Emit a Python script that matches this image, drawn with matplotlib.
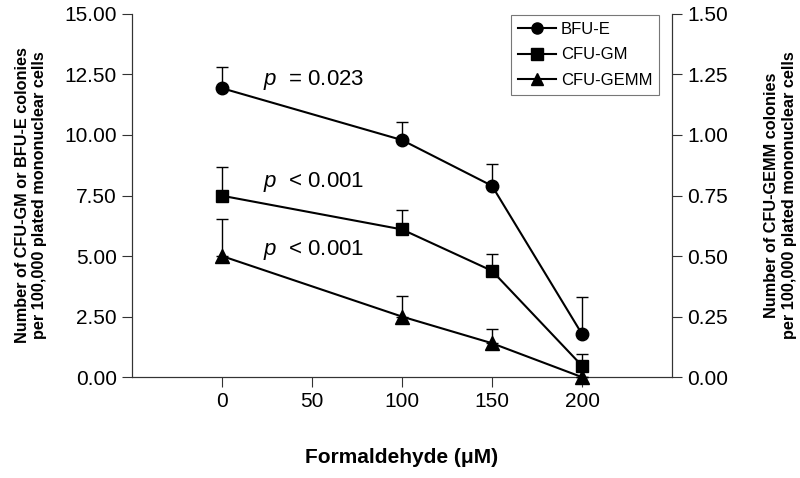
import matplotlib.pyplot as plt
import numpy as np
from matplotlib.lines import Line2D

plt.rcParams['font.family'] = ['Liberation Sans', 'DejaVu Sans']
plt.rcParams['mathtext.fontset'] = 'custom'
plt.rcParams['mathtext.it'] = 'Liberation Sans:italic'
plt.rcParams['mathtext.rm'] = 'Liberation Sans'

# formaldehyde dose (uM)
dose = [0, 100, 150, 200]

# colonies per 100,000 cells, left axis
bfu_e = [11.93, 9.79, 7.90, 1.78]
bfu_e_top = [12.82, 10.55, 8.80, 3.29]
cfu_gm = [7.49, 6.10, 4.39, 0.47]
cfu_gm_top = [8.67, 6.90, 5.08, 0.95]

# CFU-GEMM, right axis
cfu_gemm = [0.50, 0.25, 0.14, 0.0]
cfu_gemm_top = [0.655, 0.335, 0.197, 0.0]

p_labels = ["$p$  = 0.023", "$p$  < 0.001", "$p$  < 0.001"]
p_y = [12.27, 8.06, 5.25]

fig = plt.figure(figsize=(8, 4.78), dpi=100)
ax = fig.add_axes([0.165, 0.211, 0.675, 0.76])
ax2 = ax.twinx()

handles = []
def draw(a, y, top, marker, ms, label):
    y = np.array(y)
    err = np.array(top) - y
    a.errorbar(dose, y, yerr=[np.zeros_like(err), err], color='black', lw=1.5,
               marker=marker, ms=ms, capsize=4.5, elinewidth=1.0, capthick=1.0,
               clip_on=False, zorder=3)
    handles.append(Line2D([], [], color='black', lw=1.5, marker=marker, ms=ms - 1, label=label))

draw(ax, bfu_e, bfu_e_top, 'o', 9, 'BFU-E')
draw(ax, cfu_gm, cfu_gm_top, 's', 9, 'CFU-GM')
draw(ax2, cfu_gemm, cfu_gemm_top, '^', 10, 'CFU-GEMM')

ax.set_xlim(-50, 250)
ax.set_ylim(0, 15)
ax2.set_ylim(0, 1.5)
ax.set_xticks([0, 50, 100, 150, 200])
ax.set_yticks(np.arange(0, 15.01, 2.5))
ax2.set_yticks(np.arange(0, 1.501, 0.25))
ax.set_yticklabels([f"{v:.2f}" for v in np.arange(0, 15.01, 2.5)])
ax2.set_yticklabels([f"{v:.2f}" for v in np.arange(0, 1.501, 0.25)])

for a in (ax, ax2):
    a.spines['top'].set_visible(False)
    for s in a.spines.values():
        s.set_linewidth(0.8)
        s.set_color('#333333')
    a.tick_params(labelsize=15, length=7, width=0.8, color='#333333', pad=4)

ax.set_xlabel("Formaldehyde (\u03bcM)", fontsize=15, fontweight='bold', labelpad=26)
ax.set_ylabel("Number of CFU-GM or BFU-E colonies\nper 100,000 plated mononuclear cells",
              fontsize=11.7, fontweight='bold', labelpad=12)
ax2.set_ylabel("Number of CFU-GEMM colonies\nper 100,000 plated mononuclear cells",
               fontsize=11.7, fontweight='bold', rotation=90, labelpad=26)

for txt, yy in zip(p_labels, p_y):
    ax.text(23, yy, txt, fontsize=16, va='center', ha='left')

leg = ax2.legend(handles=handles, loc='upper right', bbox_to_anchor=(0.976, 0.997),
                 fontsize=12, frameon=True, fancybox=False, edgecolor='#555555',
                 handlelength=2.3, handletextpad=0.3, labelspacing=0.65, borderaxespad=0)
leg.get_frame().set_linewidth(0.8)

fig.savefig("out.png", dpi=100)
